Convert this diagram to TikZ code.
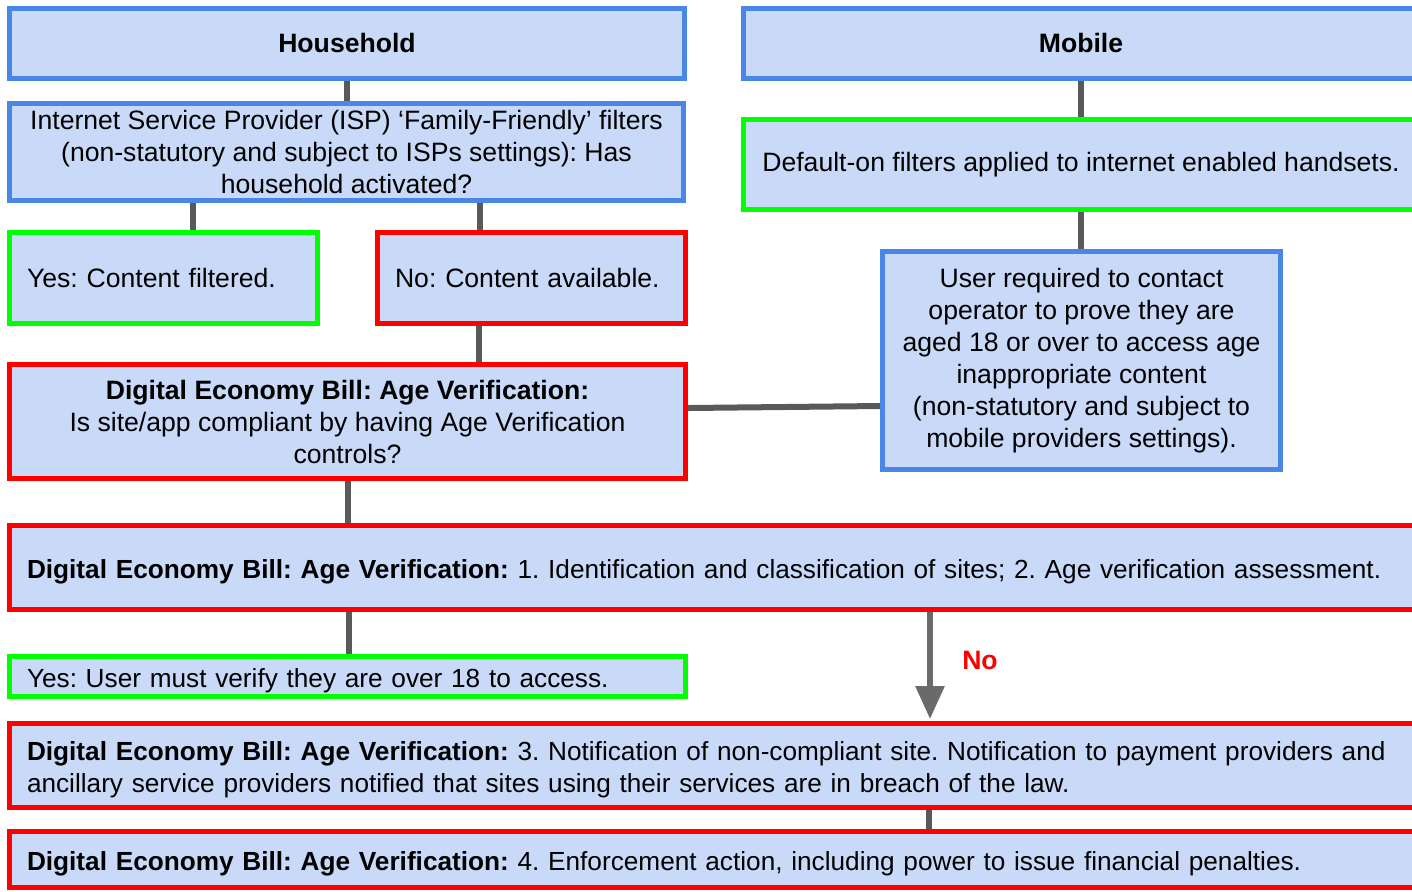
\documentclass[tikz,border=0pt]{standalone}
\usepackage{fontspec}
\setmainfont{Liberation Sans}
\usetikzlibrary{arrows.meta}

\definecolor{boxfill}{HTML}{C9DAF8}
\definecolor{boxblue}{HTML}{4A86E8}
\definecolor{boxred}{HTML}{FF0000}
\definecolor{boxgreen}{HTML}{00FF00}
\definecolor{linkgrey}{HTML}{595959}

\frenchspacing

\begin{document}
\begin{tikzpicture}[x=0.5pt, y=-0.5pt, line width=2.5pt,
		box/.style={draw, fill=boxfill, inner sep=0pt, align=center, font=\fontsize{13.3}{16}\selectfont},
		leftbox/.style={box, align=left, inner xsep=8.75pt, font=\fontsize{13.1}{16}\selectfont},
		lowtext/.style={execute at begin node={\rule{0pt}{13.5pt}}},
		bluebox/.style={box, draw=boxblue},
		redbox/.style={box, draw=boxred},
		greenbox/.style={box, draw=boxgreen},
		link/.style={draw=linkgrey, line width=3pt},
		linkarrow/.style={draw=linkgrey!90, line width=3pt, -{Triangle[width=14pt, length=16.5pt]}}]
	
	% keep the page to the drawn area, boxes on the right run past it
	\clip (0,0) rectangle (1412,891);
	
	% household column
	\node[bluebox, minimum width=337.5pt, minimum height=35pt] (household) at (347,43) {\textbf{Household}};
	\node[bluebox, minimum width=337pt, minimum height=48.5pt] (isp) at (346.5,152) {Internet Service Provider (ISP) ‘Family-Friendly’ filters\\(non-statutory and subject to ISPs settings): Has\\household activated?};
	\node[greenbox, leftbox, text width=136.5pt, minimum height=45.5pt, font=\fontsize{13.3}{16}\selectfont] (yesfilter) at (163.5,278) {Yes: Content filtered.};
	\node[redbox, leftbox, text width=136.5pt, minimum height=45.5pt, font=\fontsize{13.3}{16}\selectfont] (noavail) at (531.5,278) {No: Content available.};
	\node[redbox, minimum width=338pt, minimum height=57pt] (debcheck) at (347.5,421.5) {\textbf{Digital Economy Bill: Age Verification:}\\Is site/app compliant by having Age Verification\\controls?};
	
	% mobile column
	\node[bluebox, minimum width=337.5pt, minimum height=35pt] (mobile) at (1081,43) {\textbf{Mobile}};
	\node[greenbox, minimum width=337.5pt, minimum height=45pt] (default) at (1081,164.5) {Default-on filters applied to internet enabled handsets.};
	\node[bluebox, minimum width=199pt, minimum height=109pt] (userreq) at (1081.5,360.5) {User required to contact\\operator to prove they are\\aged 18 or over to access age\\inappropriate content\\(non-statutory and subject to\\mobile providers settings).};
	
	% full width steps
	\node[redbox, leftbox, lowtext, text width=687pt, minimum height=42pt] (debassess) at (714,567.5) {\textbf{Digital Economy Bill: Age Verification:} 1. Identification and classification of sites; 2. Age verification assessment.};
	\node[greenbox, leftbox, lowtext, text width=320.5pt, minimum height=20pt] (yesverify) at (347.5,676.5) {Yes: User must verify they are over 18 to access.};
	\node[redbox, leftbox, lowtext, text width=687pt, minimum height=42pt] (debnotify) at (714,765.5) {\textbf{Digital Economy Bill: Age Verification:} 3. Notification of non-compliant site. Notification to payment providers and\\ancillary service providers notified that sites using their services are in breach of the law.};
	\node[redbox, leftbox, lowtext, text width=687pt, minimum height=28pt] (debenforce) at (714,859.5) {\textbf{Digital Economy Bill: Age Verification:} 4. Enforcement action, including power to issue financial penalties.};
	
	% connectors
	\draw[link] (household.south) -- (isp.north -| household.south);
	\draw[link] ([xshift=14.75pt]yesfilter.north |- isp.south) -- ([xshift=14.75pt]yesfilter.north);
	\draw[link] ([xshift=-25.75pt]noavail.north |- isp.south) -- ([xshift=-25.75pt]noavail.north);
	\draw[link] ([xshift=-26.25pt]noavail.south) -- ([xshift=-26.25pt]noavail.south |- debcheck.north);
	\draw[link] (mobile.south) -- (default.north);
	\draw[link] (default.south) -- (userreq.north -| default.south);
	\draw[link] ([yshift=6.75pt]debcheck.east) -- ([yshift=-22.75pt]userreq.west);
	\draw[link] (debcheck.south) -- (debassess.north -| debcheck.south);
	\draw[link] ([xshift=0.75pt]yesverify.north |- debassess.south) -- ([xshift=0.75pt]yesverify.north);
	\draw[linkarrow] ([xshift=108pt]debassess.south) -- ([xshift=108pt,yshift=1pt]debnotify.north);
	\draw[link] ([xshift=107.5pt]debnotify.south) -- ([xshift=107.5pt]debenforce.north);
	
	% answer on the arrow
	\node[text=boxred, font=\fontsize{13.3}{16}\selectfont\bfseries] (nolabel) at (980,660) {No};
\end{tikzpicture}
\end{document}
